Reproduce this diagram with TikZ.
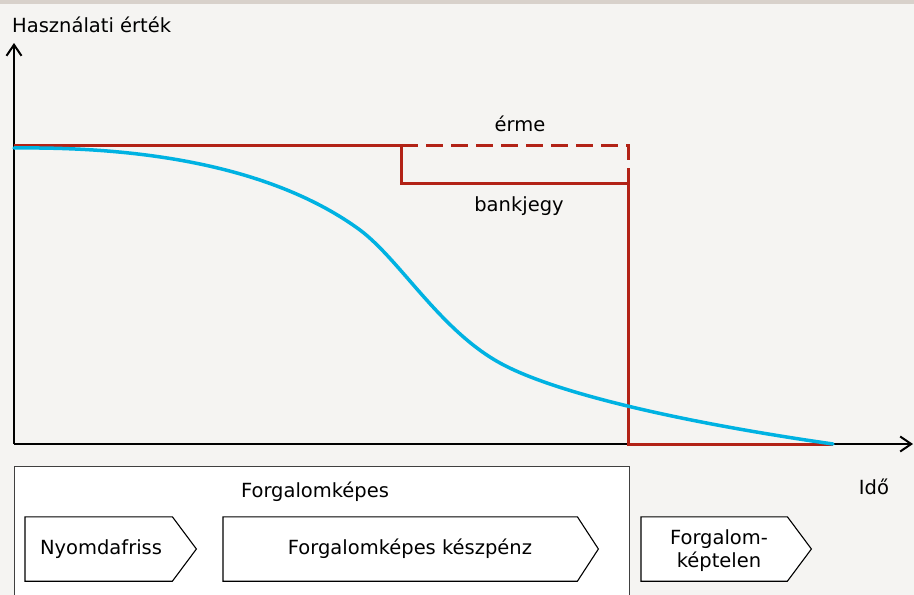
\documentclass[tikz,border=0pt]{standalone}
\usepackage{fontspec}
\setmainfont{DejaVu Sans}
\usetikzlibrary{arrows.meta}
\definecolor{bgcol}{RGB}{245,244,242}
\definecolor{bandcol}{RGB}{216,209,203}
\definecolor{valred}{RGB}{178,34,22}
\definecolor{wearblue}{RGB}{0,178,226}
\definecolor{framecol}{RGB}{64,64,64}
\tikzset{
  axis/.style={line width=2pt, black, -{Straight Barb[length=11pt,width=15pt,line width=2pt]}},
  redline/.style={line width=3pt, valred},
  reddash/.style={line width=3pt, valred, dash pattern=on 17pt off 8pt},
  curve/.style={line width=3.5pt, wearblue, line cap=round},
  label/.style={inner sep=0pt, font=\fontsize{19.5pt}{23pt}\selectfont, text=black},
  phasebox/.style={draw=framecol, line width=1.4pt, fill=white},
  chevbox/.style={draw=none, inner sep=0pt, minimum height=64pt},
  chev/.style={draw=black, line width=1.1pt, fill=white, line join=miter},
}
\begin{document}
\begin{tikzpicture}[x=1pt,y=-1pt]
  \useasboundingbox (0,0) rectangle (914,595);
  \fill[bgcol] (0,0) rectangle (914,595);
  \fill[bandcol] (0,0) rectangle (914,3.5);

  % axes
  \coordinate (O) at (14,444);
  \coordinate (ytip) at (14,43);
  \coordinate (xtip) at (913,444);
  \draw[axis] (O) -- (ytip);
  \draw[axis] (O) -- (xtip);
  \node[label, anchor=west] (ylab) at (12,25) {Használati érték};
  \node[label] (xlab) at (874,487) {Idő};

  % value curves: coin and banknote
  \coordinate (r0) at (14,145);
  \coordinate (r1) at (401,145);
  \coordinate (r2) at (628,145);
  \coordinate (b1) at (401,183);
  \coordinate (b2) at (628,183);
  \coordinate (b3) at (628,444);
  \coordinate (b4) at (833,444);
  \draw[reddash] (r1) -- (r2) -- (b2);
  \draw[redline] (r0) -- (r1) -- (b1) -- (b2) -- (b3) -- (b4);
  \node[label] (erme) at (520,124) {érme};
  \node[label] (bank) at (519,206) {bankjegy};

  % gradual wear of usage value
  \coordinate (w0) at (14,148);
  \coordinate (w1) at (360,230);
  \coordinate (w2) at (500,363);
  \coordinate (w3) at (833,444);
  \draw[curve] (w0) .. controls (195,146) and (300,186) .. (w1)
                    .. controls (400,260) and (440,330) .. (w2)
                    .. controls (560,396) and (700,425) .. (w3);

  % phase boxes
  \node[phasebox, anchor=north west, minimum width=615pt, minimum height=140pt] (fk) at (14,466) {};
  \node[label] (fklab) at (315,492) {Forgalomképes};

  \node[chevbox, minimum width=147pt, anchor=west] (ny) at (25,549) {};
  \draw[chev] (ny.north west) -- (ny.north east) -- ([xshift=24pt]ny.east) -- (ny.south east) -- (ny.south west) -- cycle;
  \node[label] (nylab) at (101,549) {Nyomdafriss};

  \node[chevbox, minimum width=354pt, anchor=west] (kp) at (223,549) {};
  \draw[chev] (kp.north west) -- (kp.north east) -- ([xshift=21pt]kp.east) -- (kp.south east) -- (kp.south west) -- cycle;
  \node[label] (kplab) at (410,549) {Forgalomképes készpénz};

  \node[chevbox, minimum width=146pt, anchor=west] (kt) at (641,549) {};
  \draw[chev] (kt.north west) -- (kt.north east) -- ([xshift=24pt]kt.east) -- (kt.south east) -- (kt.south west) -- cycle;
  \node[label, align=center] (ktlab) at (719,551) {Forgalom-\\képtelen};
\end{tikzpicture}
\end{document}
